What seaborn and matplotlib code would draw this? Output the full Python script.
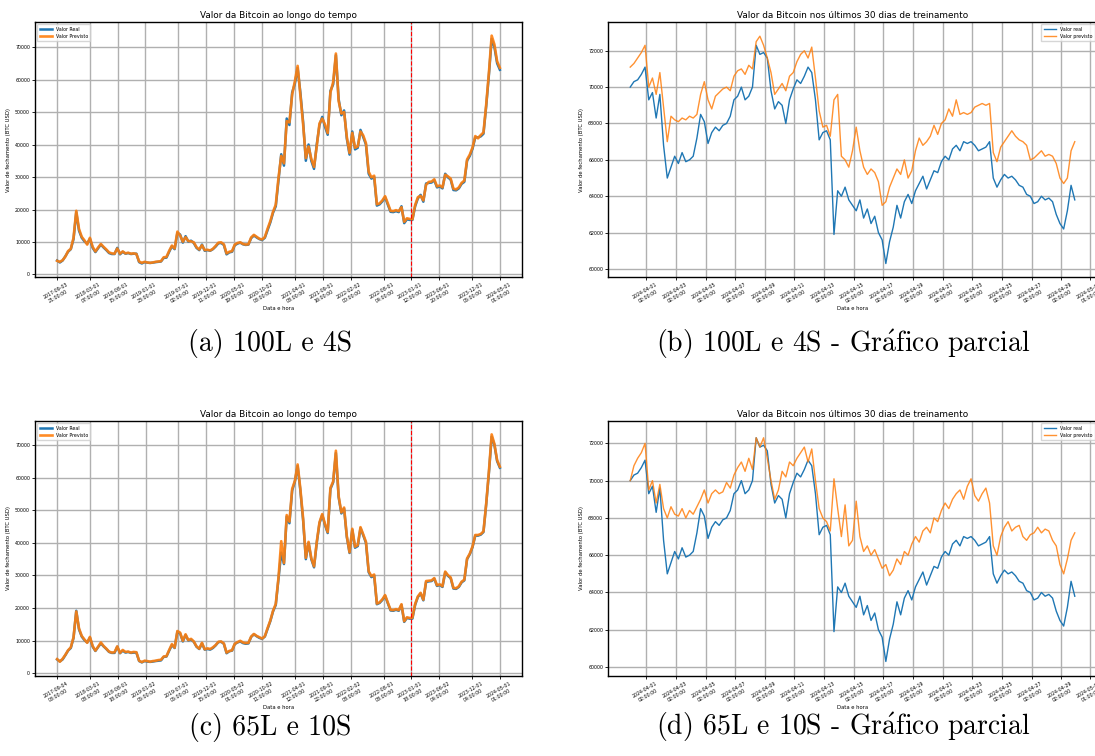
import matplotlib
matplotlib.use("Agg")
import matplotlib.pyplot as plt
import seaborn as sns
import pandas as pd

# ---------------- full history (semi-monthly closes, USD) ----------------
hist_start = "2017-09-03 21:00"
hist_end = "2024-05-01 01:00"

real_hist = [4300, 3700, 4300, 5600, 7000, 7800, 10900, 19200, 13500, 11300,
             10200, 9500, 11000, 8200, 6900, 8100, 9200, 8300, 7500, 6600,
             6300, 6300, 8200, 6200, 7000, 6400, 6600, 6300, 6400, 6400,
             3800, 3400, 3800, 3650, 3550, 3650, 3800, 3900, 4000, 5100,
             5200, 7000, 8700, 7800, 12800, 12300, 9800, 11800, 10100, 10400,
             9700, 8200, 7500, 9200, 7300, 7500, 7300, 7800, 8600, 9600,
             9700, 9100, 6200, 6800, 7000, 9000, 9500, 9800, 9300, 9100,
             9200, 11200, 12000, 11400, 10900, 10600, 11300, 13700, 16000, 19000,
             21000, 29000, 37000, 33500, 48000, 46000, 56000, 58800, 63500, 56000,
             47000, 35000, 40000, 35000, 32500, 40000, 46000, 48500, 45500, 43000,
             56500, 58500, 67500, 54000, 49000, 50500, 41800, 36900, 44000, 38500,
             39000, 44500, 42300, 40000, 31000, 29500, 30000, 21200, 21600, 22500,
             23800, 21500, 19300, 19200, 19500, 19200, 21000, 15800, 17000, 16800,
             16800, 21000, 23400, 24500, 22400, 28000, 28200, 28300, 29000, 26800,
             27100, 26500, 31000, 29900, 29200, 26000, 25900, 26500, 27900, 28500,
             35000, 36500, 38700, 42200, 42200, 42500, 43300, 51800, 61500, 72500,
             70000, 65000, 63000]

pred_hist_100l = [4200, 3900, 4400, 5500, 7200, 7900, 11300, 19600, 14000, 11600,
                  10500, 9200, 11300, 8500, 7100, 8300, 9400, 8500, 7700, 6800,
                  6500, 6400, 8000, 6400, 7100, 6500, 6700, 6400, 6500, 6300,
                  4000, 3600, 3900, 3700, 3600, 3700, 3900, 4000, 4100, 5300,
                  5400, 7300, 8900, 8000, 13200, 12000, 10100, 11500, 10300, 10200,
                  9900, 8400, 7700, 9000, 7500, 7600, 7400, 7900, 8800, 9800,
                  9900, 9300, 6500, 7000, 7200, 9200, 9700, 9900, 9400, 9200,
                  9300, 11400, 12200, 11600, 11000, 10800, 11500, 14100, 16400, 19300,
                  21500, 29800, 36500, 34200, 47200, 46800, 55400, 59500, 64200, 55300,
                  46300, 35800, 39400, 35600, 33100, 39500, 46500, 48000, 46200, 43500,
                  56000, 59200, 68000, 53400, 49500, 50000, 42300, 37400, 43600, 39000,
                  39400, 44000, 42800, 40400, 31600, 29900, 30400, 21600, 21900, 22800,
                  24100, 21900, 19600, 19500, 19800, 19500, 20700, 16200, 17300, 17100,
                  17000, 21400, 23800, 24200, 22800, 27600, 28500, 28600, 29300, 27100,
                  27400, 26800, 30700, 30200, 29500, 26400, 26200, 26800, 28200, 28900,
                  35400, 36900, 39100, 42600, 41900, 42900, 43700, 52300, 62200, 73500,
                  70800, 65600, 63600]

pred_hist_65l = [4400, 3600, 4500, 5700, 7100, 8000, 11100, 19000, 13800, 11500,
                 10400, 9400, 11200, 8400, 7000, 8200, 9500, 8400, 7600, 6700,
                 6400, 6500, 8300, 6300, 7200, 6600, 6700, 6400, 6600, 6500,
                 3900, 3500, 3900, 3800, 3600, 3800, 3900, 4100, 4200, 5200,
                 5300, 7200, 9000, 7900, 13000, 12500, 10000, 12000, 10200, 10600,
                 9800, 8300, 7600, 9400, 7400, 7700, 7500, 8000, 8700, 9700,
                 9800, 9200, 6400, 6900, 7100, 9100, 9600, 10000, 9500, 9300,
                 9400, 11300, 12100, 11500, 11100, 10700, 11400, 13900, 16200, 19200,
                 21300, 29400, 40500, 33800, 48500, 46500, 56500, 59000, 64000, 56500,
                 47500, 35400, 40300, 35300, 32800, 40300, 46300, 48800, 45800, 43300,
                 56800, 58800, 68200, 54300, 49300, 50800, 42000, 37100, 44300, 38800,
                 39300, 44800, 42600, 40300, 31300, 29800, 30300, 21400, 21800, 22700,
                 24000, 21700, 19500, 19400, 19700, 19400, 21200, 16000, 17200, 17000,
                 17100, 21300, 23600, 24700, 22600, 28300, 28400, 28500, 29200, 27000,
                 27300, 26700, 31200, 30100, 29400, 26200, 26100, 26700, 28100, 28700,
                 35200, 36700, 38900, 42400, 42400, 42700, 43500, 52000, 62000, 73200,
                 70300, 65300, 63300]

hist_ticks_100l = ["2017-09-03 21:00:00", "2018-03-01 07:00:00", "2018-08-01 15:00:00",
                   "2019-01-01 23:00:00", "2019-07-01 02:00:00", "2019-12-01 11:00:00",
                   "2020-05-01 19:00:00", "2020-10-02 03:00:00", "2021-04-01 08:00:00",
                   "2021-09-01 16:00:00", "2022-02-02 00:00:00", "2022-08-01 04:00:00",
                   "2023-01-01 12:00:00", "2023-06-01 20:00:00", "2023-12-01 05:00:00",
                   "2024-05-01 01:00:00"]
hist_ticks_65l = ["2017-09-04 03:00:00", "2018-03-01 08:00:00", "2018-08-01 18:00:00",
                  "2019-01-02 05:00:00", "2019-07-01 05:00:00", "2019-12-01 15:00:00",
                  "2020-05-02 01:00:00", "2020-10-02 11:00:00", "2021-04-01 12:00:00",
                  "2021-09-01 22:00:00", "2022-02-02 08:00:00", "2022-08-01 08:00:00",
                  "2023-01-01 18:00:00", "2023-06-02 04:00:00", "2023-12-01 04:00:00",
                  "2024-05-01 01:00:00"]
split_100l = "2023-01-01 12:00:00"
split_65l = "2023-01-01 18:00:00"

# ---------------- last 30 days (6-hourly closes, USD) ----------------
recent_start = "2024-03-31 00:00"

real_recent = [70000, 70300, 70400, 70700, 71100, 69300, 69700, 68300, 69600, 66800,
               65000, 65600, 66200, 65800, 66400, 65900, 66000, 66200, 67200, 68500,
               68100, 66900, 67500, 67800, 67600, 67900, 68000, 68400, 69300, 69500,
               70000, 69300, 69500, 70000, 72300, 71800, 71900, 71600, 69800, 68800,
               69200, 69000, 68000, 69300, 69900, 70400, 70200, 70600, 71100, 70800,
               69300, 67100, 67500, 67600, 67100, 61900, 64300, 64000, 64500, 63800,
               63500, 63200, 63800, 62800, 63300, 62500, 62900, 62000, 61600, 60300,
               61500, 62300, 63500, 62800, 63700, 64100, 63600, 64300, 64700, 65100,
               64400, 64900, 65400, 65300, 65900, 66200, 66000, 66600, 66800, 66500,
               67000, 66900, 67000, 66800, 66500, 66600, 66700, 67000, 65000, 64500,
               64900, 65200, 65000, 65100, 64900, 64600, 64500, 64100, 64000, 63600,
               63700, 64000, 63800, 63900, 63700, 63000, 62500, 62200, 63200, 64600,
               63800]

pred_recent_100l = [71100, 71300, 71600, 71900, 72300, 70000, 70500, 69600, 70800, 68900,
                    67000, 68400, 68200, 68100, 68300, 68200, 68400, 68300, 68500, 69600,
                    70300, 69300, 68800, 69500, 69700, 69900, 70000, 69800, 70600, 70900,
                    71000, 70700, 71200, 71000, 72500, 72800, 72300, 71600, 70800, 69600,
                    69900, 70200, 69800, 70600, 70800, 71400, 71800, 72000, 71600, 72200,
                    70500, 68700, 67800, 67900, 67300, 69300, 69600, 66200, 66000, 65600,
                    66500, 67800, 66500, 65600, 65200, 65500, 65300, 64800, 63500, 63700,
                    64500, 65000, 65500, 65200, 66000, 65000, 65400, 66500, 67200, 66800,
                    67000, 67300, 67900, 67400, 68000, 68200, 68800, 68400, 69300, 68500,
                    68600, 68500, 68600, 68900, 69000, 69100, 69000, 69100, 66400, 65900,
                    66700, 67000, 67300, 67600, 67300, 67100, 67000, 66800, 66000, 66100,
                    66300, 66500, 66200, 66300, 66200, 65800, 65000, 64700, 65000, 66500,
                    67000]

pred_recent_65l = [70000, 70800, 71200, 71500, 72000, 69500, 70000, 68800, 69800, 68500,
                   68000, 68600, 68200, 68100, 68500, 68000, 68400, 68200, 68600, 69000,
                   69500, 68800, 69300, 69500, 69300, 69400, 69900, 69600, 70300, 70700,
                   71000, 70500, 71200, 70600, 72300, 71800, 72300, 71200, 70000, 69000,
                   69500, 70500, 70200, 71000, 70800, 71200, 71500, 71800, 71000, 71700,
                   70000, 68500, 68000, 67800, 67300, 70100, 68500, 67000, 68700, 66500,
                   66800, 68900, 67000, 66200, 66500, 66000, 66300, 65800, 65300, 65500,
                   64900, 65200, 65800, 65500, 66200, 66000, 66600, 67000, 66700, 67300,
                   67500, 67200, 68000, 67800, 68400, 68800, 68500, 69000, 69300, 69500,
                   69000, 69700, 70100, 69200, 68900, 69300, 69600, 68800, 66500, 66000,
                   67000, 67500, 67800, 67300, 67500, 67600, 67000, 66800, 67100, 67200,
                   67500, 67200, 67400, 67300, 66800, 66500, 65500, 65000, 65800, 66800,
                   67200]

recent_ticks_100l = ["2024-04-01 02:00:00", "2024-04-03 02:00:00", "2024-04-05 02:00:00",
                     "2024-04-07 02:00:00", "2024-04-09 02:00:00", "2024-04-11 02:00:00",
                     "2024-04-13 02:00:00", "2024-04-15 02:00:00", "2024-04-17 02:00:00",
                     "2024-04-19 02:00:00", "2024-04-21 02:00:00", "2024-04-23 02:00:00",
                     "2024-04-25 02:00:00", "2024-04-27 02:00:00", "2024-04-29 02:00:00",
                     "2024-05-01 01:00:00"]
recent_ticks_65l = recent_ticks_100l

captions = ["(a) 100L e 4S", r"(b) 100L e 4S - Gr$\acute{\mathrm{a}}$fico parcial",
            "(c) 65L e 10S", r"(d) 65L e 10S - Gr$\acute{\mathrm{a}}$fico parcial"]

BLUE = "#1f77b4"
ORANGE = "#ff7f0e"
TICK_FS = 3.4
LABEL_FS = 3.8
TITLE_FS = 6.4

plt.rcParams["font.family"] = ["DejaVu Sans"]
plt.rcParams["mathtext.fontset"] = "cm"

fig = plt.figure(figsize=(10.95, 7.56), dpi=100)
W, H = 1095, 756


def add_axes(left, top, right, bottom):
    return fig.add_axes([left / W, 1 - bottom / H, (right - left) / W, (bottom - top) / H])


def style_axes(ax, tick_strings, title):
    ticks = pd.to_datetime(tick_strings)
    ax.set_xticks(ticks)
    ax.set_xticklabels([t.replace(" ", "\n") for t in tick_strings],
                       rotation=30, fontsize=TICK_FS)
    ax.tick_params(axis="y", labelsize=TICK_FS, length=2, width=0.6, pad=1.5)
    ax.tick_params(axis="x", length=2, width=0.6, pad=1.5)
    ax.grid(True, color="#b0b0b0", linewidth=1.0)
    ax.set_axisbelow(True)
    ax.set_title(title, fontsize=TITLE_FS, pad=3)
    ax.set_xlabel("Data e hora", fontsize=LABEL_FS, labelpad=0.5)
    ax.set_ylabel("Valor de fechamento (BTC USD)", fontsize=LABEL_FS, labelpad=3)
    for s in ax.spines.values():
        s.set_color("black")
        s.set_linewidth(1.0)


def history_panel(ax, pred, ticks, split, ylim):
    dates = pd.date_range(hist_start, hist_end, periods=len(real_hist))
    sns.lineplot(x=dates, y=real_hist, ax=ax, color=BLUE, linewidth=1.8, label="Valor Real")
    sns.lineplot(x=dates, y=pred, ax=ax, color=ORANGE, linewidth=1.9, alpha=0.9,
                 label="Valor Previsto")
    ax.axvline(pd.Timestamp(split), color="red", linestyle="--", linewidth=0.8)
    ax.set_ylim(*ylim)
    style_axes(ax, ticks, "Valor da Bitcoin ao longo do tempo")
    ax.legend(loc="upper left", fontsize=TICK_FS, handlelength=2.6, borderpad=0.5,
              framealpha=0.8)


def recent_panel(ax, pred, ticks, ylim):
    dates = pd.date_range(recent_start, periods=len(real_recent), freq="6h")
    sns.lineplot(x=dates, y=real_recent, ax=ax, color=BLUE, linewidth=1.0, label="Valor real")
    sns.lineplot(x=dates, y=pred, ax=ax, color=ORANGE, linewidth=1.0, alpha=0.85,
                 label="Valor previsto")
    ax.set_ylim(*ylim)
    style_axes(ax, ticks, "Valor da Bitcoin nos últimos 30 dias de treinamento")
    ax.legend(loc="upper right", fontsize=TICK_FS, handlelength=2.6, borderpad=0.5,
              framealpha=0.8)


ax_a = add_axes(35, 22, 522, 277)
history_panel(ax_a, pred_hist_100l, hist_ticks_100l, split_100l, (-770, 77700))

ax_b = add_axes(608, 22, 1097, 277)
recent_panel(ax_b, pred_recent_100l, recent_ticks_100l, (59560, 73580))

ax_c = add_axes(35, 421, 522, 676)
history_panel(ax_c, pred_hist_65l, hist_ticks_65l, split_65l, (-770, 77300))

ax_d = add_axes(608, 421, 1097, 676)
recent_panel(ax_d, pred_recent_65l, recent_ticks_65l, (59520, 73200))

cap_font = ["cmr10", "DejaVu Serif"]
for (cx, cy), text in zip([(270, 344), (843, 344), (270, 727), (843, 727)], captions):
    fig.text(cx / W, 1 - cy / H, text, ha="center", va="center",
             fontsize=20, family=cap_font)

fig.savefig("out.png", dpi=100)
